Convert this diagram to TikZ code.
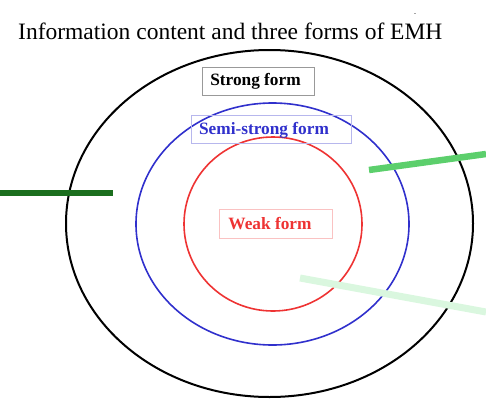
\documentclass[tikz,border=0pt]{standalone}
\usepackage{fontspec}
\setmainfont{Liberation Serif}
\definecolor{myblue}{HTML}{3030CC}
\definecolor{myred}{HTML}{EE3333}
\definecolor{darkg}{HTML}{1B6E1E}
\definecolor{midg}{HTML}{5CCF6C}
\definecolor{paleg}{HTML}{DAF7DF}
\begin{document}
\begin{tikzpicture}[x=1pt,y=-1pt,
  formbox/.style={draw, line width=0.8pt, minimum height=28pt, inner sep=0pt},
  formtext/.style={inner sep=0pt, font=\fontsize{17.3}{17.3}\selectfont\bfseries},
  ring/.style={line width=1.6pt}]
\useasboundingbox (0,0) rectangle (486,412);
\node[anchor=base west, inner sep=0pt, font=\fontsize{23.5}{23.5}\selectfont] (title) at (18,40) {Information content and three forms of EMH};
\draw[line width=1pt, gray!70] (414,14) -- (416,14);
% ellipses
\draw[ring, line width=2pt, black] (269.5,223.5) ellipse [x radius=203.5, y radius=173.5];
\draw[ring, myblue] (272.5,224) ellipse [x radius=136.5, y radius=121];
\draw[ring, myred] (273,224) ellipse [x radius=89, y radius=87];
% label boxes
\node[formbox, draw=gray!80, minimum width=112pt] (strong) at (258,81) {};
\node[formbox, draw=myblue!35, minimum width=160pt] (semi) at (271,129) {};
\node[formbox, draw=myred!30, minimum width=113pt, minimum height=29pt] (weak) at (275.5,223.5) {};
\node[formtext, text=black] (strongt) at (255.5,81) {Strong form};
\node[formtext, text=myblue] (semit) at (264,130) {Semi-strong form};
\node[formtext, text=myred] (weakt) at (270,224) {Weak form};
% green bars
\coordinate (g1a) at (0,193);
\coordinate (g1b) at (113,193);
\coordinate (g2a) at (369,170);
\coordinate (g2b) at (486,154);
\coordinate (g3a) at (300,278);
\coordinate (g3b) at (486,312);
\draw[darkg, line width=6pt] (g1a) -- (g1b);
\draw[midg, line width=6.5pt] (g2a) -- (g2b);
\draw[paleg, line width=7pt] (g3a) -- (g3b);
\end{tikzpicture}
\end{document}
